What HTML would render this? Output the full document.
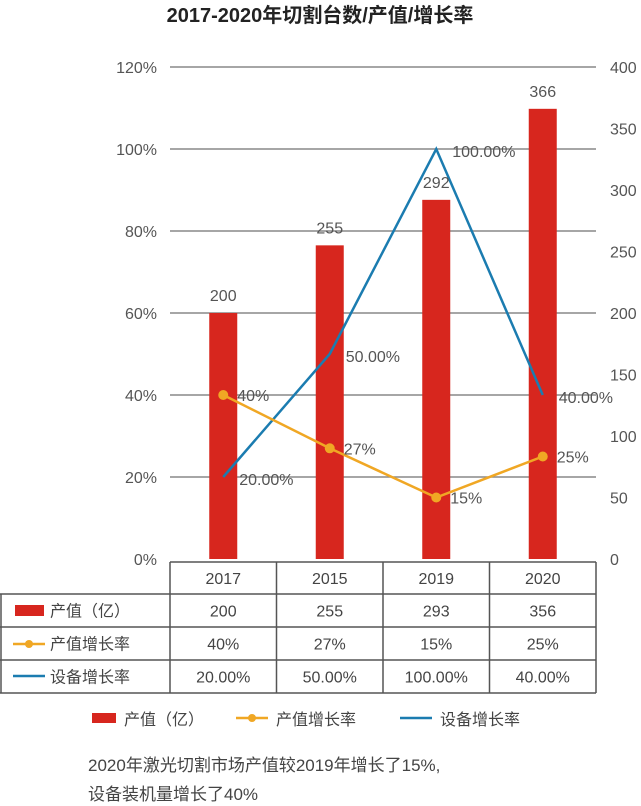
<!DOCTYPE html>
<html><head><meta charset="utf-8"><style>
body{margin:0;background:#fff;}
svg{display:block;font-family:"Liberation Sans","Noto Sans CJK SC",sans-serif;}
</style></head><body>
<svg id="c" width="641" height="806" viewBox="0 0 641 806">
<text x="320" y="22" text-anchor="middle" font-size="20" font-weight="bold" fill="#222">2017-2020年切割台数/产值/增长率</text>
<g id="grid"></g><g id="bars"></g><g id="lines"></g><g id="labels"></g><g id="table"></g>
<g>
<rect x="92" y="713" width="24" height="10" fill="#d7261e"/>
<text x="124" y="725" font-size="16" fill="#444">产值（亿）</text>
<line x1="236" y1="718" x2="268" y2="718" stroke="#f0a724" stroke-width="2.5"/>
<circle cx="252" cy="718" r="4" fill="#f0a724"/>
<text x="276" y="725" font-size="16" fill="#444">产值增长率</text>
<line x1="400" y1="718" x2="432" y2="718" stroke="#1b7cb0" stroke-width="2.5"/>
<text x="440" y="725" font-size="16" fill="#444">设备增长率</text>
</g>
<text x="88" y="771" font-size="17" fill="#444">2020年激光切割市场产值较2019年增长了15%,</text>
<text x="88" y="800" font-size="17" fill="#444">设备装机量增长了40%</text>
</svg>
<script>
const categories=["2017","2015","2019","2020"];
const outputValues=[200,255,292,366];
const outputGrowth=[40,27,15,25];
const deviceGrowth=[20,50,100,40];
const tableOutput=["200","255","293","356"];
const tableOutputGrowth=["40%","27%","15%","25%"];
const tableDeviceGrowth=["20.00%","50.00%","100.00%","40.00%"];
const leftTicks=[0,20,40,60,80,100,120];
const rightTicks=[0,50,100,150,200,250,300,350,400];

const NS="http://www.w3.org/2000/svg";
const X0=170,X1=596,Y0=559,YT=67,BW=(X1-X0)/categories.length;
const yL=v=>Y0-(v/120)*(Y0-YT);
const yR=v=>Y0-(v/400)*(Y0-YT);
const xC=i=>X0+BW*(i+0.5);
function mk(tag,attrs,parent,text){const e=document.createElementNS(NS,tag);for(const k in attrs)e.setAttribute(k,attrs[k]);if(text!==undefined)e.textContent=text;parent.appendChild(e);return e;}
const grid=document.getElementById('grid'),bars=document.getElementById('bars'),lines=document.getElementById('lines'),labels=document.getElementById('labels'),table=document.getElementById('table');
leftTicks.forEach(t=>{
 if(t>0){const l=mk('line',{x1:X0,x2:X1,y1:yL(t),y2:yL(t),stroke:'#888','stroke-width':1.5},grid);
 
 }
 const tx=mk('text',{x:157,y:yL(t)+6,'text-anchor':'end','font-size':16,fill:'#555'},grid,t+'%');
 
 
});
rightTicks.forEach(t=>{
 const tx=mk('text',{x:610,y:yR(t)+6,'font-size':16,fill:'#555'},grid,String(t));
 
 
});
outputValues.forEach((v,i)=>{
 const r=mk('rect',{x:xC(i)-14,y:yR(v),width:28,height:Y0-yR(v),fill:'#d7261e'},bars);
 
 
 const t=mk('text',{x:xC(i),y:yR(v)-12,'text-anchor':'middle','font-size':16,fill:'#555'},labels,String(v));
 
 
});
const bp=mk('polyline',{points:deviceGrowth.map((v,i)=>xC(i)+','+yL(v)).join(' '),fill:'none',stroke:'#1b7cb0','stroke-width':2.5},lines);


const op=mk('polyline',{points:outputGrowth.map((v,i)=>xC(i)+','+yL(v)).join(' '),fill:'none',stroke:'#f0a724','stroke-width':2.5},lines);


outputGrowth.forEach((v,i)=>{
 const c=mk('circle',{cx:xC(i),cy:yL(v),r:5,fill:'#f0a724'},lines);
 
 
 const t=mk('text',{x:xC(i)+14,y:yL(v)+6,'font-size':16,fill:'#555'},labels,v+'%');
 
 
});
deviceGrowth.forEach((v,i)=>{
 const t=mk('text',{x:xC(i)+16,y:yL(v)+8,'font-size':16,fill:'#555'},labels,v.toFixed(2)+'%');
 
 
});
// table
const rows=[562,594,627,660,693];
const tl={stroke:'#555','stroke-width':1.5};
mk('line',Object.assign({x1:X0,x2:X1,y1:rows[0],y2:rows[0]},tl),table);
for(let r=1;r<rows.length;r++)mk('line',Object.assign({x1:0,x2:X1,y1:rows[r],y2:rows[r]},tl),table);
mk('line',Object.assign({x1:1,x2:1,y1:rows[1],y2:rows[4]},tl),table);
for(let c=0;c<=categories.length;c++)mk('line',Object.assign({x1:X0+BW*c,x2:X0+BW*c,y1:rows[0],y2:rows[4]},tl),table);
const tRows=[categories,tableOutput,tableOutputGrowth,tableDeviceGrowth];
tRows.forEach((arr,r)=>arr.forEach((s,i)=>{
 const t=mk('text',{x:xC(i),y:(rows[r]+rows[r+1])/2+6,'text-anchor':'middle','font-size':16,fill:'#444'},table,s);
 
 
}));
mk('rect',{x:15,y:605,width:29,height:11,fill:'#d7261e'},table);
mk('line',{x1:13,x2:45,y1:644,y2:644,stroke:'#f0a724','stroke-width':2.5},table);
mk('circle',{cx:29,cy:644,r:4,fill:'#f0a724'},table);
mk('line',{x1:13,x2:45,y1:676,y2:676,stroke:'#1b7cb0','stroke-width':2.5},table);
["产值（亿）","产值增长率","设备增长率"].forEach((s,r)=>{
 const t=mk('text',{x:50,y:(rows[r+1]+rows[r+2])/2+6,'font-size':16,fill:'#444'},table,s);
 
 
});
</script>
</body></html>
